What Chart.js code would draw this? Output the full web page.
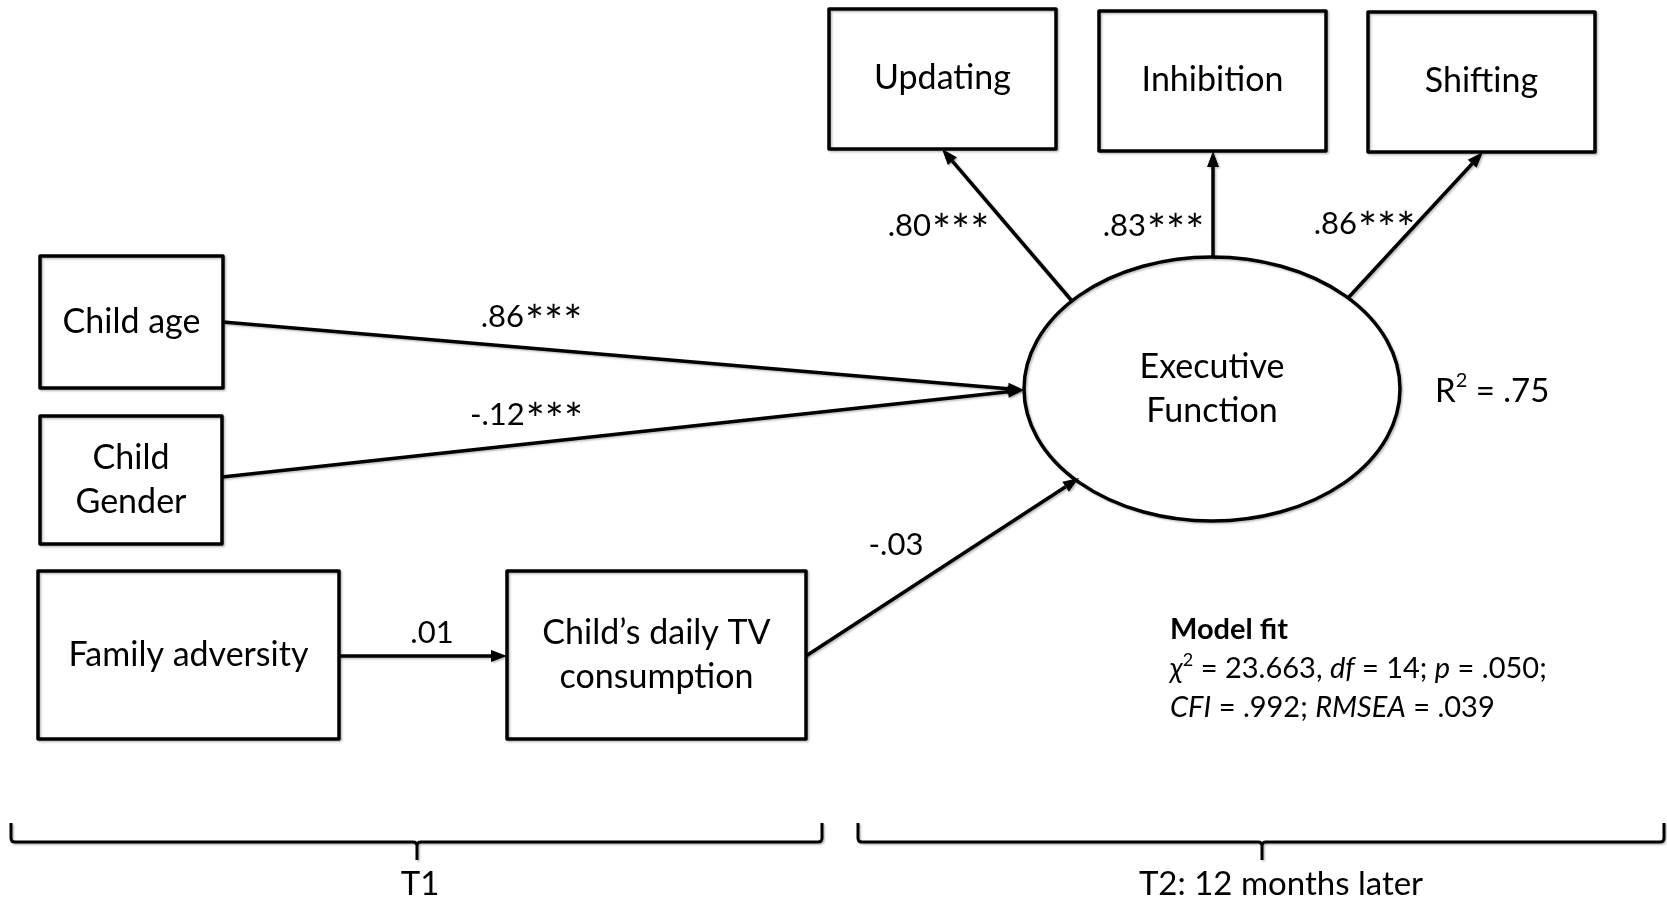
<!DOCTYPE html>
<html>
<head>
<meta charset="utf-8">
<script src="https://cdn.jsdelivr.net/npm/chart.js@4.4.1/dist/chart.umd.min.js"></script>
<style>
  html, body { margin: 0; padding: 0; background: #fff; overflow: hidden; }
  canvas { display: block; }
</style>
</head>
<body>
<canvas id="diagram" width="1667" height="901"></canvas>
<script>
// observed predictors (T1), latent outcome and its indicators (T2)
const predictors = ['Child age', 'Child\nGender', 'Family adversity', 'Child\u2019s daily TV\nconsumption'];
const latentName = 'Executive\nFunction';
const indicators = ['Updating', 'Inhibition', 'Shifting'];

// standardised path coefficients
const regressionCoefs = ['.86***', '-.12***', '-.03'];   // age, gender, TV -> EF
const mediationCoefs = ['.01'];                          // adversity -> TV
const loadingCoefs = ['.80***', '.83***', '.86***'];    // EF -> indicators
const rSquared = '.75';

// model fit
const fitChi2 = '23.663';
const fitDf = '14';
const fitP = '.050';
const fitCFI = '.992';
const fitRMSEA = '.039';

const periods = ['T1', 'T2: 12 months later'];

// layout in diagram units (same as the 1667 x 901 canvas)
const layout = {
  boxes: [
    [40, 256, 183, 132],   // Child age
    [40, 416, 182, 128],   // Child Gender
    [38, 571, 301, 168],   // Family adversity
    [507, 571, 299, 168]   // TV
  ],
  indBoxes: [
    [829, 9, 227, 140],
    [1099, 11, 227, 140],
    [1368, 12, 227, 140]
  ],
  ellipse: [1212, 389, 188, 132],
  regArrows: [
    [223, 322, 1024, 390],
    [222, 477, 1024, 390],
    [806, 656, 1079, 478]
  ],
  medArrows: [[339, 656, 507, 656]],
  loadArrows: [
    [1072, 301, 942, 149],
    [1213, 258, 1213, 151],
    [1348, 298, 1483, 152]
  ],
  regLabels: [[531, 316], [526, 414], [896, 544]],
  medLabels: [[432, 632]],
  loadLabels: [[938, 225], [1153, 225], [1364, 223]],
  rsq: [1435, 391],
  fit: [1170, 630, 39],
  brackets: [[11, 822, 417], [858, 1664, 1262]],
  bracketY: [823, 842, 860],
  periodLabels: [[420, 884], [1281, 884]]
};

const NODE_FONT = 'Lato, "DejaVu Sans", sans-serif';
const COEF_FONT = 'Lato, "Liberation Sans", sans-serif';

function drawArrow(ctx, x1, y1, x2, y2) {
  const ang = Math.atan2(y2 - y1, x2 - x1);
  const hl = 16, hw = 6;
  const bx = x2 - hl * Math.cos(ang), by = y2 - hl * Math.sin(ang);
  ctx.beginPath();
  ctx.moveTo(x1, y1);
  ctx.lineTo(bx, by);
  ctx.stroke();
  ctx.beginPath();
  ctx.moveTo(x2, y2);
  ctx.lineTo(bx + hw * Math.sin(ang), by - hw * Math.cos(ang));
  ctx.lineTo(bx - hw * Math.sin(ang), by + hw * Math.cos(ang));
  ctx.closePath();
  ctx.fill();
}

function drawLines(ctx, text, cx, cy, lh) {
  const lines = text.split('\n');
  const top = cy - (lines.length - 1) * lh / 2;
  lines.forEach((l, i) => ctx.fillText(l, cx, top + i * lh));
}

// coefficient with larger significance stars, centred on (cx, cy)
function drawCoef(ctx, text, cx, cy, size) {
  const m = text.match(/^([^*]*)(\**)$/);
  const num = m[1], stars = m[2];
  const base = cy + size * 0.36;
  ctx.textAlign = 'left';
  ctx.textBaseline = 'alphabetic';
  ctx.font = size + 'px ' + COEF_FONT;
  const wn = ctx.measureText(num).width;
  const ss = size * 1.45;
  ctx.font = ss + 'px ' + COEF_FONT;
  const ws = stars ? ctx.measureText(stars).width : 0;
  const x0 = cx - (wn + ws) / 2;
  ctx.font = size + 'px ' + COEF_FONT;
  ctx.fillText(num, x0, base);
  if (stars) {
    ctx.font = ss + 'px ' + COEF_FONT;
    ctx.fillText(stars, x0 + wn + 1, base + size * 0.33);
  }
  ctx.textAlign = 'center';
  ctx.textBaseline = 'middle';
}

// runs: [text, style] with style 'n' normal, 'i' italic, 'b' bold, 's' superscript
function drawRuns(ctx, x, y, runs, size) {
  ctx.textAlign = 'left';
  let cx = x;
  runs.forEach(([t, st]) => {
    let f = '';
    let yy = y;
    if (st === 'i') f = 'italic ' + size + 'px ' + COEF_FONT;
    else if (st === 'b') f = 'bold ' + size + 'px ' + COEF_FONT;
    else if (st === 's') { f = Math.round(size * 0.62) + 'px ' + COEF_FONT; yy = y - size * 0.32; }
    else f = size + 'px ' + COEF_FONT;
    ctx.font = f;
    ctx.fillText(t, cx, yy);
    cx += ctx.measureText(t).width;
  });
}

const diagramPlugin = {
  id: 'pathDiagram',
  afterDatasetsDraw(chart) {
    const { ctx, scales: { x, y } } = chart;
    const px = v => x.getPixelForValue(v);
    const py = v => y.getPixelForValue(v);
    ctx.save();
    ctx.strokeStyle = '#000';
    ctx.fillStyle = '#000';
    ctx.lineJoin = 'round';

    // soft shadow like the original figure
    ctx.shadowColor = 'rgba(0,0,0,0.25)';
    ctx.shadowBlur = 2;
    ctx.shadowOffsetX = 1.5;
    ctx.shadowOffsetY = 1.5;

    // boxes
    ctx.lineWidth = 3.5;
    layout.boxes.concat(layout.indBoxes).forEach(([bx, by, bw, bh]) => {
      ctx.strokeRect(px(bx), py(by), px(bx + bw) - px(bx), py(by + bh) - py(by));
    });

    // ellipse
    const [ex, ey, erx, ery] = layout.ellipse;
    ctx.beginPath();
    ctx.ellipse(px(ex), py(ey), px(ex + erx) - px(ex), py(ey + ery) - py(ey), 0, 0, Math.PI * 2);
    ctx.stroke();

    // arrows
    layout.regArrows.concat(layout.medArrows, layout.loadArrows).forEach(([a, b, c, d]) => {
      drawArrow(ctx, px(a), py(b), px(c), py(d));
    });

    // brackets
    ctx.lineWidth = 3;
    const [by0, by1, by2] = layout.bracketY;
    layout.brackets.forEach(([l, r, m]) => {
      ctx.beginPath();
      ctx.moveTo(px(l), py(by0));
      ctx.lineTo(px(l), py(by1 - 4));
      ctx.quadraticCurveTo(px(l), py(by1), px(l + 4), py(by1));
      ctx.lineTo(px(m - 4), py(by1));
      ctx.quadraticCurveTo(px(m), py(by1), px(m), py(by1 + 4));
      ctx.lineTo(px(m), py(by2));
      ctx.moveTo(px(m), py(by1 + 4));
      ctx.quadraticCurveTo(px(m), py(by1), px(m + 4), py(by1));
      ctx.lineTo(px(r - 4), py(by1));
      ctx.quadraticCurveTo(px(r), py(by1), px(r), py(by1 - 4));
      ctx.lineTo(px(r), py(by0));
      ctx.stroke();
    });

    ctx.shadowColor = 'transparent';

    // node labels
    ctx.textAlign = 'center';
    ctx.textBaseline = 'middle';
    ctx.font = '34px ' + NODE_FONT;
    predictors.forEach((lab, i) => {
      const [bx, by, bw, bh] = layout.boxes[i];
      drawLines(ctx, lab, px(bx + bw / 2), py(by + bh / 2), 44);
    });
    indicators.forEach((lab, i) => {
      const [bx, by, bw, bh] = layout.indBoxes[i];
      ctx.fillText(lab, px(bx + bw / 2), py(by + bh / 2 - 1));
    });
    drawLines(ctx, latentName, px(ex), py(ey), 44);

    // coefficients
    regressionCoefs.forEach((t, i) => drawCoef(ctx, t, px(layout.regLabels[i][0]), py(layout.regLabels[i][1]), 31));
    mediationCoefs.forEach((t, i) => drawCoef(ctx, t, px(layout.medLabels[i][0]), py(layout.medLabels[i][1]), 31));
    loadingCoefs.forEach((t, i) => drawCoef(ctx, t, px(layout.loadLabels[i][0]), py(layout.loadLabels[i][1]), 31));

    // R squared
    ctx.textBaseline = 'middle';
    drawRuns(ctx, px(layout.rsq[0]), py(layout.rsq[1]), [['R', 'n'], ['2', 's'], [' = ' + rSquared, 'n']], 33);

    // model fit block
    const [fx, fy, flh] = layout.fit;
    drawRuns(ctx, px(fx), py(fy), [['Model fit', 'b']], 29);
    drawRuns(ctx, px(fx), py(fy + flh), [
      ['\u03C7', 'i'], ['2', 's'], [' = ' + fitChi2 + ', ', 'n'], ['df', 'i'], [' = ' + fitDf + '; ', 'n'],
      ['p', 'i'], [' = ' + fitP + ';', 'n']
    ], 29);
    drawRuns(ctx, px(fx), py(fy + 2 * flh), [
      ['CFI', 'i'], [' = ' + fitCFI + '; ', 'n'], ['RMSEA', 'i'], [' = ' + fitRMSEA, 'n']
    ], 29);

    // period labels
    ctx.textAlign = 'center';
    ctx.font = '33px ' + COEF_FONT;
    periods.forEach((t, i) => ctx.fillText(t, px(layout.periodLabels[i][0]), py(layout.periodLabels[i][1])));

    ctx.restore();
  }
};

new Chart(document.getElementById('diagram').getContext('2d'), {
  type: 'scatter',
  data: { datasets: [{ data: [], pointRadius: 0 }] },
  options: {
    responsive: false,
    animation: false,
    devicePixelRatio: 1,
    layout: { padding: 0 },
    plugins: { legend: { display: false }, tooltip: { enabled: false } },
    scales: {
      x: { type: 'linear', min: 0, max: 1667, display: false },
      y: { type: 'linear', min: 0, max: 901, reverse: true, display: false }
    }
  },
  plugins: [diagramPlugin]
});
</script>
</body>
</html>
